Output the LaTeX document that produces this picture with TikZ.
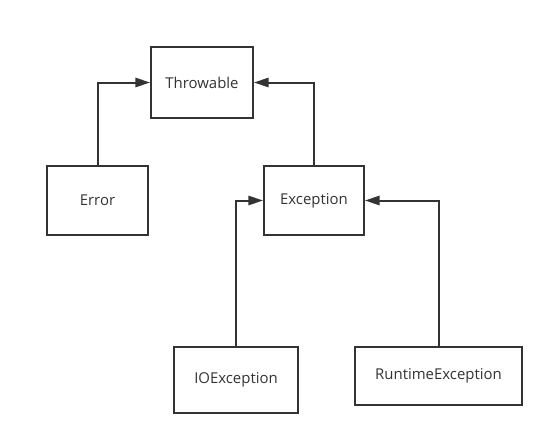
\documentclass[tikz,border=0pt]{standalone}
\usepackage{fontspec}
\setmainfont{Open Sans}
\usetikzlibrary{arrows.meta}
\definecolor{inkgray}{RGB}{51,51,51}
\tikzset{every picture/.style={line width=0.75pt}}
\tikzset{
  classbox/.style={draw=inkgray, line width=1.5pt, rectangle, inner sep=0pt, text=inkgray, font=\fontsize{11.2}{13}\selectfont},
  inherit/.style={draw=inkgray, line width=1.5pt, -{Triangle[length=11pt,width=7pt]}}
}
\begin{document}
\begin{tikzpicture}[x=0.75pt,y=0.75pt,yscale=-1,xscale=1]
	\useasboundingbox (0,0) rectangle (554,446);
	
	% Class boxes
	\node [classbox, minimum width=76.5pt, minimum height=53.25pt] (throwable) at (202,82.5) {Throwable};
	\node [classbox, minimum width=75.75pt, minimum height=51.75pt] (error) at (97.5,200.5) {Error};
	\node [classbox, minimum width=75pt, minimum height=51.75pt] (exception) at (314,200.5) {Exception};
	\node [classbox, minimum width=93pt, minimum height=49.5pt] (ioexception) at (236,380) {IOException};
	\node [classbox, minimum width=125.25pt, minimum height=43.5pt] (runtimeexception) at (438.5,376) {RuntimeException};
	
	% Inheritance connectors
	\draw [inherit] (error.north) |- (throwable.west);
	\draw [inherit] (exception.north) |- (throwable.east);
	\draw [inherit] (ioexception.north) |- (exception.west);
	\draw [inherit] (runtimeexception.north) |- (exception.east);
	
\end{tikzpicture}
\end{document}
